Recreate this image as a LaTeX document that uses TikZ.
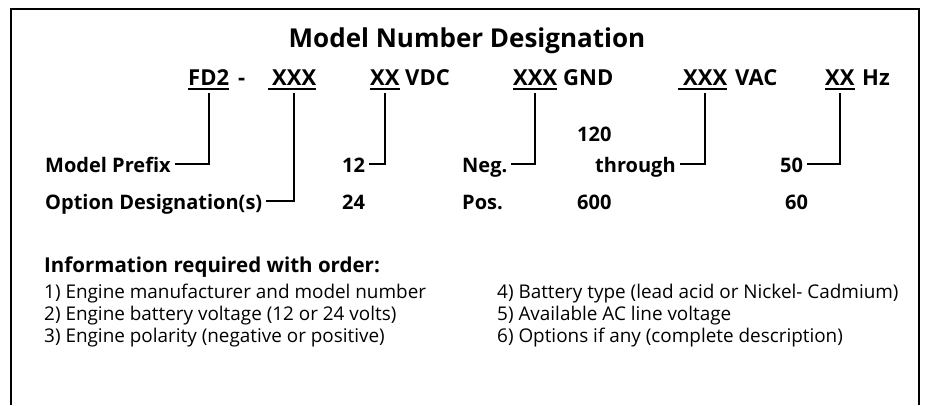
\documentclass[tikz,border=0pt]{standalone}
\usepackage{fontspec}
\setmainfont{Open Sans}
\begin{document}
\begin{tikzpicture}[x=1pt,y=-1pt,
  frame/.style={line width=2.4pt},
  wire/.style={line width=1.9pt},
  title/.style={font=\bfseries\fontsize{26}{30}\selectfont, anchor=base, inner sep=0pt},
  field/.style={font=\bfseries\fontsize{22}{26}\selectfont, anchor=base west,
    inner xsep=0pt, inner ysep=8pt, text height=16pt, text depth=0pt},
  lbl/.style={font=\bfseries\fontsize{20}{24}\selectfont, anchor=base west,
    inner xsep=4pt, inner ysep=0pt, text height=16pt, text depth=0pt},
  head/.style={font=\bfseries\fontsize{20.5}{24}\selectfont, anchor=base west, inner sep=0pt},
  item/.style={font=\fontsize{18.9}{22}\selectfont, anchor=base west, inner sep=0pt}]

\useasboundingbox (0,0) rectangle (925,405);

% open frame: left, top and right sides
\draw[frame] (11,405) -- (11,9) -- (919,9) -- (919,405);

% heading
\node[title] (ttl) at (467,47) {Model Number Designation};

% model number fields
\node[field] (fd2)  at (188,85) {FD2};
\node[field] (dash) at (238,85) {-};
\node[field] (opt)  at (272,85) {XXX};
\node[field] (vdc)  at (370,85) {XX};
\node[field] (vdcu) at (405,85) {VDC};
\node[field] (gnd)  at (513,85) {XXX};
\node[field] (gndu) at (563,85) {GND};
\node[field] (vac)  at (683,85) {XXX};
\node[field] (vacu) at (735,85) {VAC};
\node[field] (hz)   at (825,85) {XX};
\node[field] (hzu)  at (862,85) {Hz};

% underlines of the variable fields
\foreach \n/\l in {fd2/0, opt/4, vdc/0, gnd/0, vac/5, hz/0}
  \draw[line width=1.3pt] ([xshift=-\l pt,yshift=-4pt]\n.base west) -- ([yshift=-4pt]\n.base east);

% value labels
\node[lbl] (prefix) at (41,172) {Model Prefix};
\node[lbl] (optd)   at (41,209) {Option Designation(s)};
\node[lbl] (v12)    at (338,172) {12};
\node[lbl] (v24)    at (338,209) {24};
\node[lbl] (neg)    at (458,172) {Neg.};
\node[lbl] (pos)    at (458,209) {Pos.};
\node[lbl] (v120)   at (573,141) {120};
\node[lbl] (thr)    at (591,172) {through};
\node[lbl] (v600)   at (573,209) {600};
\node[lbl] (v50)    at (776,172) {50};
\node[lbl] (v60)    at (781,209) {60};

% connectors from each field down to its values
\draw[wire] (fd2.south) |- (prefix.east);
\draw[wire] (opt.south) |- (optd.east);
\draw[wire] (vdc.south) |- (v12.east);
\draw[wire] (gnd.south) |- (neg.east);
\draw[wire] (vac.south) |- (thr.east);
\draw[wire] (hz.south)  |- (v50.east);

% ordering information
\node[head] (info) at (44,272) {Information required with order:};
\node[item] (i1) at (44,298) {1) Engine manufacturer and model number};
\node[item] (i2) at (44,320) {2) Engine battery voltage (12 or 24 volts)};
\node[item] (i3) at (44,342) {3) Engine polarity (negative or positive)};
\node[item] (i4) at (497,298) {4) Battery type (lead acid or Nickel- Cadmium)};
\node[item] (i5) at (497,320) {5) Available AC line voltage};
\node[item] (i6) at (497,342) {6) Options if any (complete description)};
\end{tikzpicture}
\end{document}
